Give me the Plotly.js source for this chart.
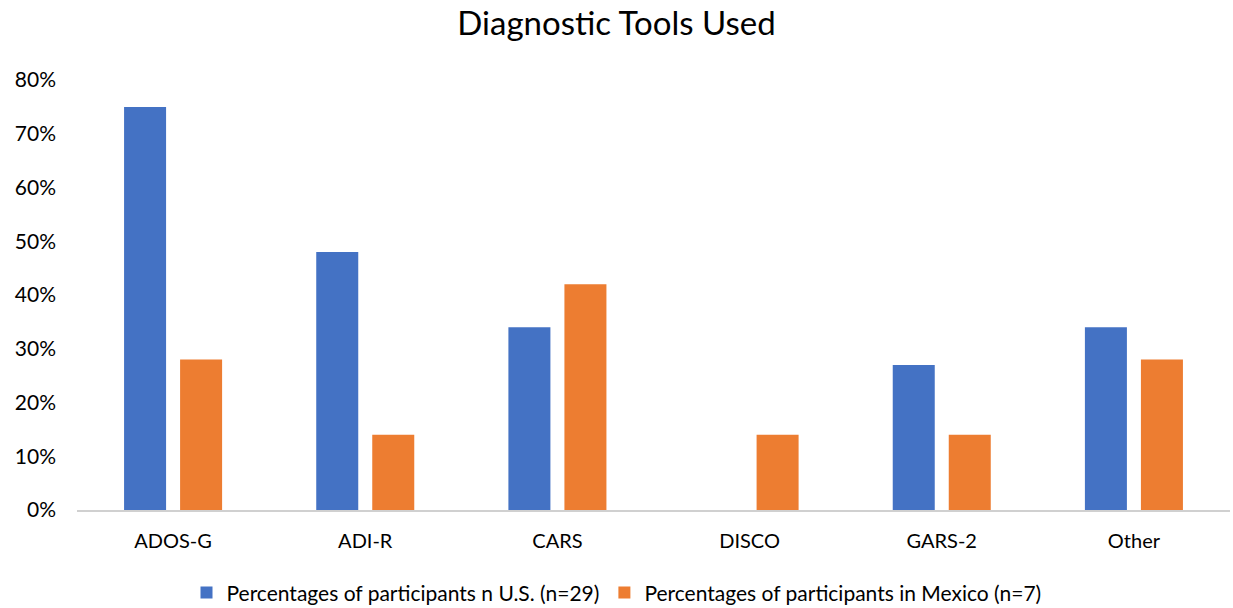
<!DOCTYPE html>
<html>
<head>
<meta charset="utf-8">
<script src="https://cdn.plot.ly/plotly-3.0.1.min.js"></script>
<style>html,body{margin:0;padding:0;background:#fff;}#chart{width:1233px;height:608px;}</style>
</head>
<body>
<div id="chart"></div>
<script>
// Diagnostic tools used, share of participants per country
const tools = ["ADOS-G", "ADI-R", "CARS", "DISCO", "GARS-2", "Other"];
const usShare = [0.75, 0.48, 0.34, 0, 0.27, 0.34];
const mexicoShare = [0.28, 0.14, 0.42, 0.14, 0.14, 0.28];
const yTicks = [0, 0.1, 0.2, 0.3, 0.4, 0.5, 0.6, 0.7, 0.8];

const font = "Lato, 'Noto Sans', sans-serif";

const traces = [
  {
    type: "bar", x: tools, y: usShare,
    name: "Percentages of participants n U.S. (n=29)",
    marker: {color: "#4472C4"}, hoverinfo: "x+y"
  },
  {
    type: "bar", x: tools, y: mexicoShare,
    name: "Percentages of participants in Mexico (n=7)",
    marker: {color: "#ED7D31"}, hoverinfo: "x+y"
  }
];

const layout = {
  width: 1233, height: 608,
  margin: {l: 77, r: 3, t: 80, b: 98, autoexpand: false},
  paper_bgcolor: "#fff", plot_bgcolor: "#fff",
  font: {family: font, color: "#000"},
  title: {text: "Diagnostic Tools Used", font: {size: 33, color: "#000", family: font}, x: 0.5, xanchor: "center", y: 0.962, yanchor: "middle"},
  barmode: "group", bargap: 0.417, bargroupgap: 0.25,
  xaxis: {
    showgrid: false, zeroline: false, showline: true, linecolor: "#D0D0D0", linewidth: 2,
    ticks: "", tickfont: {size: 20, color: "#000"}, ticklabelstandoff: 12, fixedrange: true
  },
  yaxis: {
    range: [0, 0.8], tickvals: yTicks, tickformat: ".0%",
    showgrid: false, zeroline: false, showline: false, ticks: "",
    tickfont: {size: 21, color: "#000"}, ticklabelstandoff: 20, fixedrange: true
  },
  legend: {
    orientation: "h", x: 0.5, xanchor: "center", xref: "container",
    y: 0.025, yanchor: "middle", yref: "container",
    font: {size: 21, color: "#000"}, itemwidth: 30, traceorder: "normal"
  },
  showlegend: true
};

Plotly.newPlot("chart", traces, layout, {displayModeBar: false, staticPlot: true});
</script>
</body>
</html>
